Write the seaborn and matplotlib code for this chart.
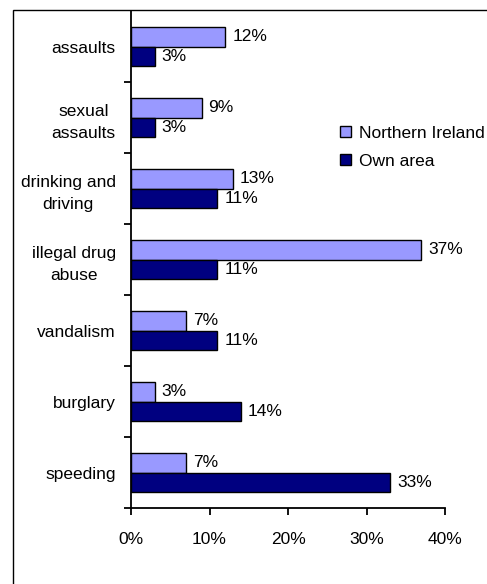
import pandas as pd
import numpy as np
import matplotlib
matplotlib.use('Agg')
import matplotlib.pyplot as plt
from matplotlib.patches import Rectangle
from matplotlib.ticker import FixedLocator
import seaborn as sns

categories = ['assaults', 'sexual\nassaults', 'drinking and\ndriving',
              'illegal drug\nabuse', 'vandalism', 'burglary', 'speeding']
northern_ireland = [12, 9, 13, 37, 7, 3, 7]
own_area = [3, 3, 11, 11, 11, 14, 33]
series = ['Northern Ireland', 'Own area']
x_ticks = [0, 10, 20, 30, 40]

PALETTE = {'Northern Ireland': '#9999FF', 'Own area': '#000080'}
FS = 12.5

df = pd.DataFrame({
    'category': categories * 2,
    'value': northern_ireland + own_area,
    'series': [series[0]] * len(categories) + [series[1]] * len(categories),
})

sns.set_style('white')
plt.rcParams['font.family'] = ['Liberation Sans', 'DejaVu Sans']
plt.rcParams['text.color'] = 'black'

fig = plt.figure(figsize=(4.87, 5.84), dpi=100)
ax = fig.add_axes([131/487, 1-508/584, 314/487, 497/584])

sns.barplot(data=df, y='category', x='value', hue='series', order=categories,
            hue_order=series, palette=PALETTE, orient='h', width=0.56,
            edgecolor='black', linewidth=1, saturation=1, ax=ax)

for cont in ax.containers:
    ax.bar_label(cont, labels=[f'{v:.0f}%' for v in cont.datavalues],
                 padding=5, fontsize=FS, color='black')

ax.set_xlim(0, 40)
ax.set_ylim(6.5, -0.5)
ax.set_xticks(x_ticks)
ax.set_xticklabels([f'{t}%' for t in x_ticks])
ax.set_xlabel(''); ax.set_ylabel('')
ax.set_yticks(range(len(categories)))
ax.set_yticklabels(categories, multialignment='center', linespacing=1.55)
ax.yaxis.set_minor_locator(FixedLocator(np.arange(0.5, len(categories), 1)))

for s in ['top', 'right']:
    ax.spines[s].set_visible(False)
for s in ['left', 'bottom']:
    ax.spines[s].set_color('black')
    ax.spines[s].set_linewidth(1.3)

ax.tick_params(axis='y', which='major', length=0, pad=11, labelsize=FS,
               colors='black')
ax.tick_params(axis='y', which='minor', left=True, length=5, width=1.3,
               direction='out', color='black')
ax.tick_params(axis='x', which='major', bottom=True, length=5, width=1.3,
               direction='out', pad=12, labelsize=FS, colors='black')

leg = ax.legend(loc='upper left', bbox_to_anchor=(0.645, 0.783), frameon=False,
                fontsize=FS, handlelength=0.6, handleheight=0.6,
                handletextpad=0.45, labelspacing=0.75, borderaxespad=0)
for t in leg.get_texts():
    t.set_color('black')

fig.patches.append(Rectangle((13/487, -0.2), 1.2, 1 - 10/584 + 0.2,
                             transform=fig.transFigure, fill=False,
                             edgecolor='black', linewidth=1))

plt.savefig('out.png', dpi=100)
plt.close()
